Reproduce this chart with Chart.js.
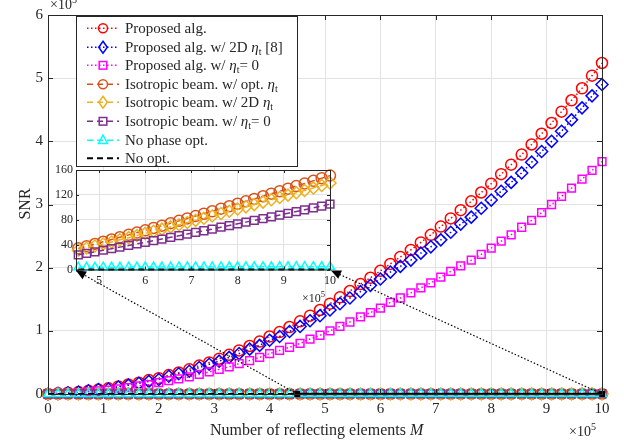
<!DOCTYPE html>
<html>
<head>
<meta charset="utf-8">
<script src="https://cdn.jsdelivr.net/npm/chart.js@4.4.1/dist/chart.umd.min.js"></script>
<style>
    html, body { margin: 0; padding: 0; background: #fff; }
    #wrap { position: relative; width: 624px; height: 444px; overflow: hidden;
            font-family: "Liberation Serif", "Times New Roman", serif; color: #262626; }
    #main { position: absolute; left: 0; top: 0; }
    #inset { position: absolute; left: 40px; top: 160px; }
    .lbl { position: absolute; white-space: nowrap; line-height: 1; }
    .lbl sup { font-size: 0.72em; vertical-align: 0.55em; line-height: 0; }
    .tick { position: absolute; white-space: nowrap; line-height: 1; }
    #legend { position: absolute; left: 76px; top: 16px; width: 222px; height: 151px;
              box-sizing: border-box; border: 1px solid #262626; background: #fff; padding-top: 2px; }
    .row { position: relative; height: 18.6px; font-size: 15px; line-height: 18.6px; }
    .row svg { position: absolute; left: 10px; top: 0; }
    .row span { position: absolute; left: 48px; top: 0; }
    .row sub { font-size: 10px; vertical-align: -3px; line-height: 0; }
</style>
</head>
<body>
<div id="wrap">
    <canvas id="main" width="624" height="444"></canvas>
    <canvas id="inset" width="300" height="140"></canvas>
    <div id="legend"></div>
    <div class="lbl" style="left:50px; top:-2px; font-size:14px;">&times;10<sup>5</sup></div>
    <div class="lbl" style="left:569px; top:425px; font-size:14px;">&times;10<sup>5</sup></div>
    <div class="lbl" style="left:302px; top:292px; font-size:12px;">&times;10<sup>5</sup></div>
    <div class="lbl" style="left:210px; top:422px; font-size:16px;">Number of reflecting elements <i>M</i></div>
    <div class="lbl" style="left:25px; top:204px; font-size:16px; transform: translate(-50%,-50%) rotate(-90deg);">SNR</div>
</div>
<script>
// x axis: number of reflecting elements (x 10^5)
const xs = [0, 0.18, 0.36, 0.55, 0.73, 0.91, 1.09, 1.27, 1.45, 1.64, 1.82, 2, 2.18, 2.36, 2.55, 2.73, 2.91, 3.09, 3.27, 3.45,
    3.64, 3.82, 4, 4.18, 4.36, 4.55, 4.73, 4.91, 5.09, 5.27, 5.45, 5.64, 5.82, 6, 6.18, 6.36, 6.55, 6.73, 6.91, 7.09,
    7.27, 7.45, 7.64, 7.82, 8, 8.18, 8.36, 8.55, 8.73, 8.91, 9.09, 9.27, 9.45, 9.64, 9.82, 10];

// SNR (x 10^5) - main plot series
const proposed = [0, 0.01, 0.02, 0.03, 0.05, 0.07, 0.09, 0.12, 0.15, 0.18, 0.22, 0.25, 0.30, 0.34, 0.39, 0.45, 0.50, 0.56, 0.62, 0.69,
    0.76, 0.83, 0.91, 0.98, 1.06, 1.15, 1.24, 1.33, 1.43, 1.53, 1.63, 1.74, 1.84, 1.95, 2.06, 2.17, 2.28, 2.40, 2.52, 2.65,
    2.78, 2.91, 3.05, 3.19, 3.33, 3.48, 3.63, 3.79, 3.95, 4.12, 4.29, 4.47, 4.65, 4.84, 5.04, 5.24];
const proposed2D = [0, 0.01, 0.02, 0.03, 0.05, 0.07, 0.08, 0.11, 0.14, 0.17, 0.20, 0.23, 0.28, 0.32, 0.36, 0.42, 0.47, 0.52, 0.58, 0.64,
    0.71, 0.77, 0.85, 0.91, 0.99, 1.07, 1.16, 1.24, 1.33, 1.43, 1.52, 1.62, 1.72, 1.82, 1.93, 2.02, 2.12, 2.23, 2.33, 2.44,
    2.56, 2.69, 2.80, 2.94, 3.07, 3.21, 3.35, 3.50, 3.67, 3.84, 4.00, 4.16, 4.34, 4.53, 4.72, 4.90];
const proposedZero = [0, 0.005, 0.01, 0.02, 0.035, 0.05, 0.06, 0.08, 0.10, 0.13, 0.15, 0.18, 0.21, 0.24, 0.27, 0.31, 0.35, 0.39, 0.43, 0.48,
    0.53, 0.58, 0.64, 0.69, 0.74, 0.80, 0.87, 0.93, 1.00, 1.07, 1.14, 1.22, 1.29, 1.36, 1.45, 1.52, 1.60, 1.68, 1.76, 1.85,
    1.94, 2.03, 2.12, 2.21, 2.31, 2.42, 2.52, 2.64, 2.75, 2.87, 3.00, 3.13, 3.26, 3.40, 3.54, 3.68];

// SNR (absolute) - the small series shown in the inset
const isoOpt = [0, 0.1, 0.35, 0.8, 1.3, 1.9, 2.6, 3.4, 4.3, 5.4, 6.5, 7.8, 9, 10.4, 12, 13.6, 15.2, 16.9, 18.8, 20.6,
    22.7, 24.8, 27, 29.2, 31.5, 34, 37.5, 41, 44.6, 48.2, 51.8, 55.7, 59.4, 63, 66.8, 70.5, 74.5, 78.2, 82.1, 85.9,
    89.7, 93.6, 97.8, 101.7, 105.7, 109.6, 113.5, 117.8, 121.9, 125.9, 130, 134.1, 138.2, 142.6, 146.8, 151];
const iso2D = [0, 0.1, 0.3, 0.7, 1.2, 1.7, 2.4, 3.1, 4, 5, 6, 7.2, 8.3, 9.6, 11, 12.5, 14, 15.6, 17.3, 19,
    20.9, 22.8, 24.8, 26.9, 29, 31, 34.5, 37.7, 41, 44.3, 47.7, 51.2, 54.6, 58, 61.5, 64.9, 68.5, 71.9, 75.5, 79,
    82.5, 86.1, 90, 93.6, 97.2, 100.8, 104.4, 108.4, 112.1, 115.8, 119.6, 123.4, 127.1, 131.2, 135.1, 139];
const isoZero = [0, 0.07, 0.24, 0.55, 0.9, 1.3, 1.8, 2.3, 3, 3.7, 4.5, 5.4, 6.2, 7.2, 8.3, 9.4, 10.5, 11.7, 13, 14.2,
    15.7, 17.1, 18.6, 20.1, 21.7, 23.6, 26, 28.5, 31, 33.5, 36, 38.7, 41.3, 43.8, 46.4, 49, 51.8, 54.3, 57, 59.7,
    62.3, 65, 68, 70.7, 73.5, 76.2, 78.9, 81.9, 84.7, 87.5, 90.4, 93.2, 96, 99.1, 102, 105];
const noPhase = [0, 0.3, 0.6, 0.8, 1, 1.2, 1.4, 1.5, 1.7, 1.8, 2, 2.1, 2.2, 2.3, 2.4, 2.5, 2.6, 2.7, 2.8, 2.9,
    3, 3.1, 3.2, 3.3, 3.4, 3.5, 3.6, 3.6, 3.7, 3.7, 3.8, 3.8, 3.9, 3.9, 4, 4, 4, 4.1, 4.1, 4.1,
    4.2, 4.2, 4.2, 4.3, 4.3, 4.3, 4.4, 4.4, 4.4, 4.5, 4.5, 4.5, 4.5, 4.6, 4.6, 4.6];
const noOpt = [0, 0, 0, 0, 0, 0, 0, 0, 0, 0, 0, 0, 0, 0, 0, 0, 0, 0, 0, 0,
    0, 0, 0, 0, 0, 0, 0, 0, 0, 0, 0, 0, 0, 0, 0, 0, 0, 0, 0, 0,
    0, 0, 0, 0, 0, 0, 0, 0, 0, 0, 0, 0, 0, 0, 0, 0];

const mainXTicks = [0, 1, 2, 3, 4, 5, 6, 7, 8, 9, 10];
const mainYTicks = [0, 1, 2, 3, 4, 5, 6];
const insetXTicks = [5, 6, 7, 8, 9, 10];
const insetYTicks = [0, 40, 80, 120, 160];
const insetXMin = 4.5, insetXMax = 10;

const AXIS = '#262626';
const GRID = '#e2e2e2';

// series look (MATLAB-ish)
const SERIES = [
    { label: 'Proposed alg.', html: 'Proposed alg.', data: proposed, scale: 1, color: '#ff0000', marker: 'circle', dash: [1.5, 2.5], r: 5.5 },
    { label: 'Proposed alg. w/ 2D ηt [8]', html: 'Proposed alg. w/ 2D <i>η</i><sub>t</sub> [8]', data: proposed2D, scale: 1, color: '#0000ff', marker: 'rectRot', dash: [1.5, 2.5], r: 6 },
    { label: 'Proposed alg. w/ ηt= 0', html: 'Proposed alg. w/ <i>η</i><sub>t</sub>= 0', data: proposedZero, scale: 1, color: '#ff00ff', marker: 'rect', dash: [1.5, 2.5], r: 5.5 },
    { label: 'Isotropic beam. w/ opt. ηt', html: 'Isotropic beam. w/ opt. <i>η</i><sub>t</sub>', data: isoOpt, scale: 1e-5, color: '#d95319', marker: 'circle', dash: [6, 4], r: 5.5, inset: true },
    { label: 'Isotropic beam. w/ 2D ηt', html: 'Isotropic beam. w/ 2D <i>η</i><sub>t</sub>', data: iso2D, scale: 1e-5, color: '#edb120', marker: 'rectRot', dash: [6, 4], r: 6, inset: true },
    { label: 'Isotropic beam. w/ ηt= 0', html: 'Isotropic beam. w/ <i>η</i><sub>t</sub>= 0', data: isoZero, scale: 1e-5, color: '#7e2f8e', marker: 'rect', dash: [6, 4], r: 5.5, inset: true },
    { label: 'No phase opt.', html: 'No phase opt.', data: noPhase, scale: 1e-5, color: '#00ffff', marker: 'triangle', dash: [6, 4], r: 5, inset: true },
    { label: 'No opt.', html: 'No opt.', data: noOpt, scale: 1e-5, color: '#000000', marker: false, dash: [6, 4], r: 0, inset: true, width: 2 }
];

function makeDataset(s, i, points, r) {
    return {
        label: s.label,
        data: points,
        borderColor: s.color,
        borderWidth: s.width || 1.5,
        borderDash: s.dash,
        pointStyle: s.marker || 'circle',
        pointRadius: s.marker ? r : 0,
        pointBorderColor: s.color,
        pointBorderWidth: 1.5,
        pointBackgroundColor: 'rgba(0,0,0,0)',
        fill: false,
        tension: 0,
        clip: false,
        order: 10 - i
    };
}

// box + inward ticks (MATLAB style axes)
function boxPlugin(tickLen) {
    return {
        id: 'box',
        afterDraw(chart) {
            const { ctx, chartArea: a, scales } = chart;
            ctx.save();
            ctx.strokeStyle = AXIS;
            ctx.lineWidth = 1;
            ctx.strokeRect(a.left + 0.5, a.top + 0.5, a.right - a.left, a.bottom - a.top);
            ctx.beginPath();
            scales.x.ticks.forEach(t => {
                const px = Math.round(scales.x.getPixelForValue(t.value)) + 0.5;
                ctx.moveTo(px, a.bottom); ctx.lineTo(px, a.bottom - tickLen);
                ctx.moveTo(px, a.top); ctx.lineTo(px, a.top + tickLen);
            });
            scales.y.ticks.forEach(t => {
                const py = Math.round(scales.y.getPixelForValue(t.value)) + 0.5;
                ctx.moveTo(a.left, py); ctx.lineTo(a.left + tickLen, py);
                ctx.moveTo(a.right, py); ctx.lineTo(a.right - tickLen, py);
            });
            ctx.stroke();
            ctx.restore();
        }
    };
}

function axisOpts(min, max, tickList, fit) {
    return {
        type: 'linear', min: min, max: max,
        afterBuildTicks: s => { s.ticks = tickList.map(v => ({ value: v })); },
        ticks: { display: false },
        grid: { color: GRID, drawTicks: false },
        border: { display: false },
        afterFit: fit
    };
}

// --- INSET ---
const insetLeft = 40, insetTop = 160;
const insetChart = new Chart(document.getElementById('inset'), {
    type: 'line',
    data: {
        datasets: SERIES.map((s, i) => s.inset ? makeDataset(s, i,
            xs.map((x, k) => ({ x: x, y: s.data[k] })).filter(p => p.x >= insetXMin), s.r) : null).filter(d => d)
    },
    options: {
        responsive: false,
        animation: false,
        events: [],
        layout: { padding: { left: 36, top: 10, right: 10, bottom: 30.5 } },
        plugins: { legend: { display: false }, tooltip: { enabled: false } },
        scales: {
            x: axisOpts(insetXMin, insetXMax, insetXTicks, s => { s.height = 0; }),
            y: axisOpts(0, 160, insetYTicks, s => { s.width = 0; })
        }
    },
    plugins: [{
        id: 'whiteArea',
        beforeDraw(chart) {
            const { ctx, chartArea: a } = chart;
            ctx.save();
            ctx.fillStyle = '#fff';
            ctx.fillRect(a.left, a.top, a.right - a.left, a.bottom - a.top);
            ctx.restore();
        }
    }, boxPlugin(3)]
});

// zoom box on the main axis and arrows to the inset
const zoomArrows = {
    id: 'zoomArrows',
    afterDatasetsDraw(chart) {
        const { ctx, scales } = chart;
        const ia = insetChart.chartArea;
        const y0 = scales.y.getPixelForValue(0);
        const ends = [
            [scales.x.getPixelForValue(insetXMin), y0, insetLeft + ia.left, insetTop + ia.bottom + 1],
            [scales.x.getPixelForValue(insetXMax), y0, insetLeft + ia.right + 1, insetTop + ia.bottom + 1]
        ];
        ctx.save();
        // thick line marking the zoomed range
        ctx.strokeStyle = '#000';
        ctx.lineWidth = 2.5;
        ctx.beginPath();
        ctx.moveTo(ends[0][0], y0); ctx.lineTo(ends[1][0], y0);
        ctx.stroke();
        ctx.fillStyle = '#000';
        ends.forEach(e => ctx.fillRect(e[0] - 3, y0 - 3, 6, 6));
        ends.forEach(([fx, fy, tx, ty]) => {
            ctx.setLineDash([1.5, 2]);
            ctx.lineWidth = 1.2;
            ctx.beginPath();
            ctx.moveTo(fx, fy); ctx.lineTo(tx, ty);
            ctx.stroke();
            ctx.setLineDash([]);
            const ang = Math.atan2(ty - fy, tx - fx);
            const L = 10, W = 4.5;
            ctx.beginPath();
            ctx.moveTo(tx, ty);
            ctx.lineTo(tx - L * Math.cos(ang) + W * Math.sin(ang), ty - L * Math.sin(ang) - W * Math.cos(ang));
            ctx.lineTo(tx - L * Math.cos(ang) - W * Math.sin(ang), ty - L * Math.sin(ang) + W * Math.cos(ang));
            ctx.closePath();
            ctx.fill();
        });
        ctx.restore();
    }
};

// --- MAIN ---
const mainChart = new Chart(document.getElementById('main'), {
    type: 'line',
    data: {
        datasets: SERIES.map((s, i) => makeDataset(s, i, xs.map((x, k) => ({ x: x, y: s.data[k] * s.scale })), s.r))
    },
    options: {
        responsive: false,
        animation: false,
        events: [],
        layout: { padding: { left: 48, top: 15, right: 22, bottom: 50 } },
        plugins: { legend: { display: false }, tooltip: { enabled: false } },
        scales: {
            x: axisOpts(0, 10, mainXTicks, s => { s.height = 0; }),
            y: axisOpts(0, 6, mainYTicks, s => { s.width = 0; })
        }
    },
    plugins: [boxPlugin(5), zoomArrows]
});

// tick labels as html text, placed from the chart scales
const wrap = document.getElementById('wrap');
function tickLabels(chart, ox, oy, size, xGap, yGap) {
    const a = chart.chartArea, sx = chart.scales.x, sy = chart.scales.y;
    sx.ticks.forEach(t => {
        wrap.insertAdjacentHTML('beforeend', `<div class="tick" style="font-size:${size}px; left:${ox + sx.getPixelForValue(t.value)}px; top:${oy + a.bottom + xGap}px; transform:translateX(-50%);">${t.value}</div>`);
    });
    sy.ticks.forEach(t => {
        wrap.insertAdjacentHTML('beforeend', `<div class="tick" style="font-size:${size}px; right:${624 - (ox + a.left - yGap)}px; top:${oy + sy.getPixelForValue(t.value) - 0.56 * size}px;">${t.value}</div>`);
    });
}
tickLabels(mainChart, 0, 0, 15, 6.5, 5);
tickLabels(insetChart, insetLeft, insetTop, 12, 4.5, 3);
// the inset sits above the main tick labels in z-order
document.getElementById('legend').style.zIndex = 2;

// legend (html so the subscripts stay real text)
const MARK = {
    circle: c => `<circle cx="16" cy="9.3" r="4.5" fill="none" stroke="${c}" stroke-width="1.5"/>`,
    rectRot: c => `<polygon points="16,3.3 20.3,9.3 16,15.3 11.7,9.3" fill="none" stroke="${c}" stroke-width="1.5"/>`,
    rect: c => `<rect x="12.2" y="5.5" width="7.6" height="7.6" fill="none" stroke="${c}" stroke-width="1.5"/>`,
    triangle: c => `<polygon points="16,4 20.5,12.5 11.5,12.5" fill="none" stroke="${c}" stroke-width="1.5"/>`
};
const leg = document.getElementById('legend');
SERIES.forEach(s => {
    const dash = s.dash[0] < 3 ? '1.5 2.5' : '6 4';
    leg.insertAdjacentHTML('beforeend', `
        <div class="row">
            <svg width="32" height="19"><line x1="0" y1="9.3" x2="32" y2="9.3" stroke="${s.color}" stroke-width="${s.width || 1.5}" stroke-dasharray="${dash}"/>${s.marker ? MARK[s.marker](s.color) : ''}</svg>
            <span>${s.html}</span>
        </div>`);
});
</script>
</body>
</html>
